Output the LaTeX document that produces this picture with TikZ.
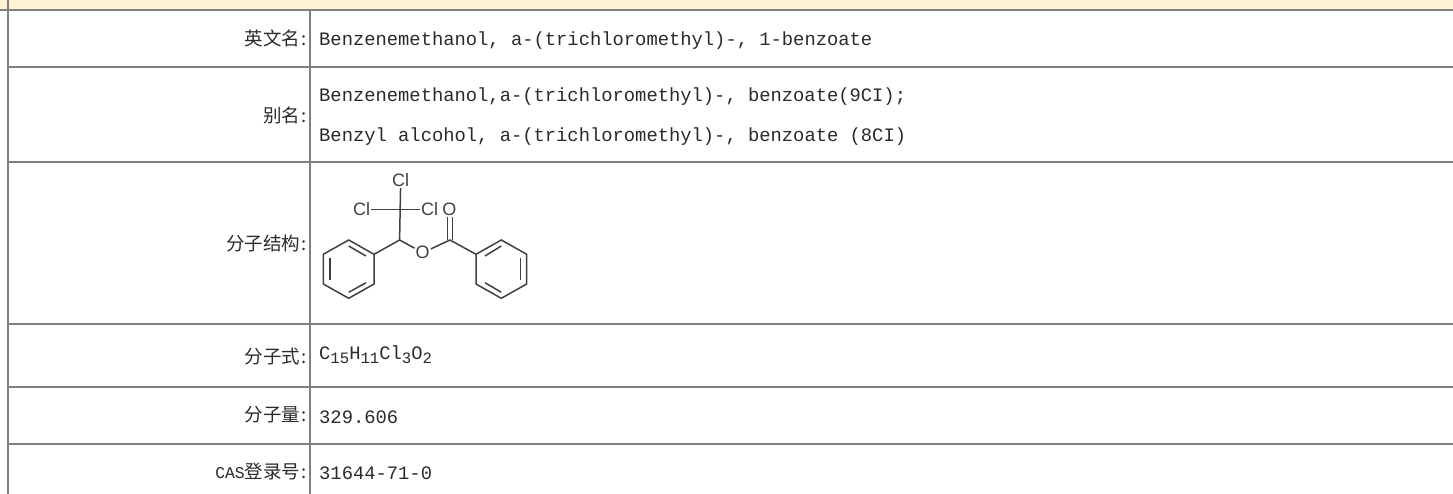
\documentclass[tikz,border=0pt]{standalone}
\usepackage{fontspec}
\setmainfont{Liberation Mono}[FakeStretch=0.99]
\newfontfamily\cjk{Noto Sans CJK SC}
\newfontfamily\atomfont{Liberation Sans}
\definecolor{rule}{HTML}{808080}
\definecolor{band}{HTML}{FFF3D3}
\definecolor{ink}{HTML}{2A2A2A}
\definecolor{bond}{HTML}{404040}
\tikzset{
  lab/.style={anchor=east,inner sep=0pt,text=ink,font=\fontsize{18.5}{20}\selectfont\cjk},
  val/.style={anchor=west,inner sep=0pt,text=ink,font=\fontsize{19}{20}\selectfont},
  atom/.style={inner sep=1pt,text=bond,font=\fontsize{18}{18}\selectfont\atomfont},
  gridline/.style={draw=rule,line width=2pt},
  bnd/.style={draw=bond,line width=1.5pt},
}
\newcommand{\sbs}[1]{\raisebox{-4pt}{\fontsize{15.8}{15}\selectfont #1}}
\newcommand{\cln}{\hspace{1.5pt}:}
\begin{document}
\begin{tikzpicture}[x=1pt,y=-1pt]
\useasboundingbox (0,0) rectangle (1453,494);
\fill[band] (0,0) rectangle (1453,9);
\draw[gridline] (0,9.8) -- (1453,9.8);
\draw[gridline] (8,0) -- (8,494);
\draw[gridline] (8,66.7) -- (1453,66.7);
\draw[gridline] (8,161.8) -- (1453,161.8);
\draw[gridline] (8,323.6) -- (1453,323.6);
\draw[gridline] (8,386.7) -- (1453,386.7);
\draw[gridline] (8,444) -- (1453,444);
\draw[gridline] (310,10) -- (310,494);

\node[lab] (l1) at (307,38) {英文名\cln};
\node[lab] (l2) at (307,115) {别名\cln};
\node[lab] (l3) at (307,243) {分子结构\cln};
\node[lab] (l4) at (307,357) {分子式\cln};
\node[lab] (l5) at (307,415) {分子量\cln};
\node[lab] (l6) at (307,472) {{\rmfamily\fontsize{16.5}{16}\selectfont CAS}登录号\cln};

\node[val] (v1) at (319,41) {Benzenemethanol, a-(trichloromethyl)-, 1-benzoate};
\node[val] (v2) at (319,97) {Benzenemethanol,a-(trichloromethyl)-, benzoate(9CI);};
\node[val] (v3) at (319,136.5) {Benzyl alcohol, a-(trichloromethyl)-, benzoate (8CI)};
\node[val] (v4) at (319,355) {C\sbs{15}H\sbs{11}Cl\sbs{3}O\sbs{2}};
\node[val] (v5) at (319,417) {329.606};
\node[val] (v6) at (319,473.5) {31644-71-0};

% molecule
\node[atom] (cltop) at (400.7,180) {Cl};
\node[atom] (clleft) at (361.7,209.3) {Cl};
\node[atom] (clright) at (429.5,209.3) {Cl};
\node[atom] (ocarb) at (449.3,209.3) {O};
\node[atom] (oest) at (422.7,252.7) {O};
\coordinate (cq) at (400,210.7);
\coordinate (ch) at (399.6,240);
\coordinate (cc) at (450,240);
\coordinate (a1) at (374,254.3);
\coordinate (a2) at (348.7,240);
\coordinate (a3) at (323.3,254.3);
\coordinate (a4) at (323.3,284);
\coordinate (a5) at (348.7,298.3);
\coordinate (a6) at (374,284);
\coordinate (b1) at (476,254.3);
\coordinate (b2) at (501.3,240);
\coordinate (b3) at (526.7,254.3);
\coordinate (b4) at (526.7,284);
\coordinate (b5) at (501.3,298.3);
\coordinate (b6) at (476,284);
\draw[bnd] (cltop) -- (ch);
\draw[bnd] (clleft) -- (clright);
\draw[bnd] (a1) -- (ch) -- (oest) -- (cc) -- (b1);
\draw[bnd,line join=miter] (a1) -- (a2) -- (a3) -- (a4) -- (a5) -- (a6) -- cycle;
\draw[bnd,line join=miter] (b1) -- (b2) -- (b3) -- (b4) -- (b5) -- (b6) -- cycle;
\draw[bnd] ([xshift=-2.3pt]cc) -- ([xshift=-2.3pt]cc |- ocarb.south);
\draw[bnd] ([xshift=2.3pt]cc) -- ([xshift=2.3pt]cc |- ocarb.south);
% inner ring bonds
\draw[bnd] (348.7,246) -- (366,256);
\draw[bnd] (330,258.3) -- (330,280);
\draw[bnd] (348.7,292.3) -- (366,282.7);
\draw[bnd] (485,256) -- (501.3,246);
\draw[bnd] (520.7,258.3) -- (520.7,280);
\draw[bnd] (485,282.7) -- (501.3,292.3);
\end{tikzpicture}
\end{document}
